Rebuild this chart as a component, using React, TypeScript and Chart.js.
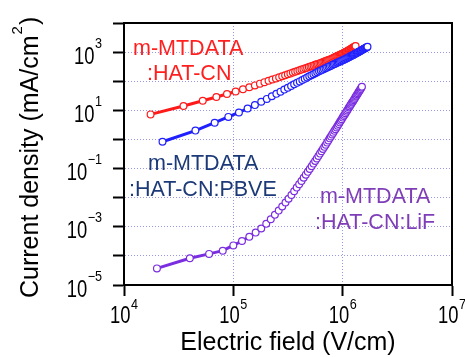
import React, { useEffect, useRef } from 'react';
import { Chart, registerables } from 'chart.js';

Chart.register(...registerables);

// Electric field (V/cm) and current density (mA/cm^2)
const redField = [17500, 35000, 52500, 70000, 87500, 105000, 122500, 140000, 157500, 175000, 192500, 210000, 227500, 245000, 262500, 280000, 297500, 315000, 332500, 350000, 367500, 385000, 402500, 420000, 437500, 455000, 472500, 490000, 507500, 525000, 542500, 560000, 577500, 595000, 612500, 630000, 647500, 665000, 682500, 700000, 717500, 735000, 752500, 770000, 787500, 805000, 822500, 840000, 857500, 875000, 892500, 910000, 927500, 945000, 962500, 980000, 997500, 1015000, 1032500, 1050000, 1067500, 1085000, 1102500, 1120000, 1137500, 1155000, 1172500, 1190000, 1207500, 1225000, 1242500, 1260000, 1277500, 1295000, 1312500];
const redDensity = [7.24, 14.1, 21.4, 28.8, 36.3, 44.2, 53.2, 62.4, 71.8, 82.4, 93.1, 104, 114, 125, 136, 148, 160, 173, 186, 198, 211, 224, 238, 251, 265, 279, 292, 307, 321, 336, 350, 365, 381, 394, 410, 426, 442, 459, 476, 493, 511, 527, 545, 562, 581, 604, 627, 650, 675, 701, 728, 752, 778, 804, 830, 859, 887, 916, 951, 982, 1014, 1047, 1081, 1117, 1153, 1194, 1236, 1285, 1327, 1374, 1419, 1469, 1517, 1570, 1622];

const blueField = [22500, 45000, 67500, 90000, 112500, 135000, 157500, 180000, 202500, 225000, 247500, 270000, 292500, 315000, 337500, 360000, 382500, 405000, 427500, 450000, 472500, 495000, 517500, 540000, 562500, 585000, 607500, 630000, 652500, 675000, 697500, 720000, 742500, 765000, 787500, 810000, 832500, 855000, 877500, 900000, 922500, 945000, 967500, 990000, 1012500, 1035000, 1057500, 1080000, 1102500, 1125000, 1147500, 1170000, 1192500, 1215000, 1237500, 1260000, 1282500, 1305000, 1327500, 1350000, 1372500, 1395000, 1417500, 1440000, 1462500, 1485000, 1507500, 1530000, 1552500, 1575000, 1597500, 1620000, 1642500, 1665000, 1687500];
const blueDensity = [0.832, 2.01, 3.75, 5.94, 8.45, 11.5, 15.1, 19.7, 24.7, 30.5, 36.8, 43.9, 51.5, 59.7, 68.5, 78.0, 87.9, 98.6, 110, 122, 134, 147, 161, 174, 188, 203, 218, 233, 248, 264, 280, 297, 315, 330, 349, 366, 384, 402, 420, 439, 458, 476, 495, 515, 537, 561, 583, 607, 631, 656, 682, 706, 731, 759, 785, 813, 845, 875, 910, 942, 975, 1009, 1045, 1081, 1119, 1159, 1194, 1236, 1274, 1312, 1352, 1393, 1435, 1476, 1521];

const purpleField = [20000, 40000, 60000, 80000, 100000, 120000, 140000, 160000, 180000, 200000, 220000, 240000, 260000, 280000, 300000, 320000, 340000, 360000, 380000, 400000, 420000, 440000, 460000, 480000, 500000, 520000, 540000, 560000, 580000, 600000, 620000, 640000, 660000, 680000, 700000, 720000, 740000, 760000, 780000, 800000, 820000, 840000, 860000, 880000, 900000, 920000, 940000, 960000, 980000, 1000000, 1020000, 1040000, 1060000, 1080000, 1100000, 1120000, 1140000, 1160000, 1180000, 1200000, 1220000, 1240000, 1260000, 1280000, 1300000, 1320000, 1340000, 1360000, 1380000, 1400000, 1420000, 1440000, 1460000, 1480000, 1500000];
const purpleDensity = [3.72e-5, 8.32e-5, 1.17e-4, 1.51e-4, 2.29e-4, 3.24e-4, 4.57e-4, 6.31e-4, 8.71e-4, 1.26e-3, 1.82e-3, 2.57e-3, 3.6e-3, 4.98e-3, 6.82e-3, 9.23e-3, 1.24e-2, 1.66e-2, 2.22e-2, 2.89e-2, 3.75e-2, 4.81e-2, 6.17e-2, 7.71e-2, 9.66e-2, 0.12, 0.148, 0.182, 0.221, 0.27, 0.327, 0.394, 0.474, 0.557, 0.662, 0.78, 0.92, 1.09, 1.26, 1.47, 1.71, 1.97, 2.26, 2.59, 2.98, 3.42, 3.87, 4.39, 4.97, 5.62, 6.37, 7.11, 7.94, 8.87, 9.91, 11.1, 12.4, 13.6, 15.2, 16.7, 18.5, 20.3, 22.4, 24.7, 27.2, 29.9, 32.5, 35.8, 38.9, 42.3, 45.9, 50.0, 54.5, 59.3, 64.6];

const xTickValues = [1e4, 1e5, 1e6, 1e7];
const xTickExponents = ['4', '5', '6', '7'];
const yTickValues = [1e-5, 1e-4, 1e-3, 1e-2, 1e-1, 1, 1e1, 1e2, 1e3, 1e4];
const yLabelValues = [1e-5, 1e-3, 1e-1, 1e1, 1e3];
const yLabelExponents = ['\u22125', '\u22123', '\u22121', '1', '3'];

const xTitle = 'Electric field (V/cm)';
const yTitleMain = 'Current density (mA/cm';
const yTitleSup = '2';
const yTitleEnd = ')';

const seriesLabels = [
  { lines: ['m-MTDATA', ':HAT-CN'], color: '#ff1f1f' },
  { lines: ['m-MTDATA', ':HAT-CN:PBVE'], color: '#1d3a78' },
  { lines: ['m-MTDATA', ':HAT-CN:LiF'], color: '#7f3db8' },
];

const RED = '#ff1a1a';
const BLUE = '#1f1fff';
const PURPLE = '#7b2de0';
const FONT = '"Liberation Sans", Arial, Helvetica, sans-serif';

function drawText(ctx: CanvasRenderingContext2D, s: string, x: number, y: number, size: number, color: string, align: CanvasTextAlign = 'left', sx = 1) {
  ctx.save();
  ctx.font = `${size}px ${FONT}`;
  ctx.fillStyle = color;
  ctx.textBaseline = 'alphabetic';
  ctx.textAlign = align;
  ctx.translate(x, y);
  ctx.scale(sx, 1);
  ctx.fillText(s, 0, 0);
  ctx.restore();
}
function measure(ctx: CanvasRenderingContext2D, s: string, size: number, sx = 1) {
  ctx.save();
  ctx.font = `${size}px ${FONT}`;
  const w = ctx.measureText(s).width * sx;
  ctx.restore();
  return w;
}

const decorPlugin = {
  id: 'decor',
  afterDraw(chart: any) {
    const ctx: CanvasRenderingContext2D = chart.ctx;
    const { left, right, top, bottom } = chart.chartArea;
    ctx.save();
    ctx.strokeStyle = '#000';
    ctx.lineWidth = 2;
    ctx.strokeRect(left, top, right - left, bottom - top);
    ctx.restore();

    const sx = 0.8;
    const base = 23;
    const sup = 14;
    const ys = chart.scales.y;
    const xs = chart.scales.x;
    yLabelValues.forEach((v, i) => {
      const py = ys.getPixelForValue(v);
      const e = yLabelExponents[i];
      const ew = measure(ctx, e, sup, 0.9);
      const rightEdge = 102;
      drawText(ctx, e, rightEdge - ew, py - 4.5, sup, '#000', 'left', 0.9);
      drawText(ctx, '10', rightEdge - ew - 0.5, py + 11.5, base, '#000', 'right', sx);
    });
    xTickValues.forEach((v, i) => {
      const px = xs.getPixelForValue(v);
      const e = xTickExponents[i];
      const bw = measure(ctx, '10', base, sx);
      const ew = measure(ctx, e, sup, 0.9);
      const start = px - (bw + ew + 0.5) / 2;
      drawText(ctx, '10', start, 323, base, '#000', 'left', sx);
      drawText(ctx, e, start + bw + 0.5, 309, sup, '#000', 'left', 0.9);
    });

    drawText(ctx, xTitle, (left + right) / 2, 350, 25, '#000', 'center');

    ctx.save();
    ctx.translate(38, 298);
    ctx.rotate(-Math.PI / 2);
    ctx.font = `25px ${FONT}`;
    ctx.fillStyle = '#000';
    ctx.textBaseline = 'alphabetic';
    ctx.textAlign = 'left';
    ctx.fillText(yTitleMain, 0, 0);
    const mw = ctx.measureText(yTitleMain).width;
    ctx.font = `15px ${FONT}`;
    ctx.fillText(yTitleSup, mw + 1, -16);
    const sw = ctx.measureText(yTitleSup).width;
    ctx.font = `25px ${FONT}`;
    ctx.fillText(yTitleEnd, mw + sw + 2, 0);
    ctx.restore();

    const pos = [
      [[133, 55], [147, 80]],
      [[148, 169.5], [129, 196]],
      [[320, 202.5], [315, 228.5]],
    ];
    seriesLabels.forEach((lab, i) => {
      lab.lines.forEach((t, j) => {
        drawText(ctx, t, pos[i][j][0], pos[i][j][1], 21.5, lab.color, 'left');
      });
    });
  },
};

function makeDataset(xs: number[], ys: number[], color: string, order: number) {
  return {
    data: xs.map((x, i) => ({ x, y: ys[i] })),
    showLine: true,
    borderColor: color,
    backgroundColor: color,
    borderWidth: 3,
    pointRadius: 3.4,
    pointBorderWidth: 1.2,
    pointBorderColor: color,
    pointBackgroundColor: '#ffffff',
    tension: 0,
    order,
  };
}

export default function App() {
  const ref = useRef<HTMLCanvasElement | null>(null);
  useEffect(() => {
    if (!ref.current) return;
    const gridCommon = {
      color: '#9898ea',
      lineWidth: 1,
      drawTicks: true,
      tickLength: 11,
      tickColor: '#000',
      tickWidth: 2,
    };
    const chart = new Chart(ref.current, {
      type: 'scatter',
      data: {
        datasets: [
          makeDataset(redField, redDensity, RED, 2),
          makeDataset(blueField, blueDensity, BLUE, 1),
          makeDataset(purpleField, purpleDensity, PURPLE, 3),
        ] as any,
      },
      options: {
        responsive: false,
        maintainAspectRatio: false,
        devicePixelRatio: 1,
        animation: false,
        events: [],
        layout: { padding: { top: 23, right: 13, left: 0, bottom: 0 } },
        plugins: { legend: { display: false }, tooltip: { enabled: false } },
        scales: {
          x: {
            type: 'logarithmic',
            position: 'bottom',
            min: 1e4,
            max: 1e7,
            afterBuildTicks: (s: any) => {
              s.ticks = xTickValues.map((v) => ({ value: v }));
            },
            afterFit: (s: any) => {
              s.height = 72;
            },
            ticks: { display: false },
            grid: gridCommon,
            border: { display: true, color: '#000', width: 2, dash: [1, 2] },
          },
          y: {
            type: 'logarithmic',
            position: 'left',
            min: 1e-5,
            max: 1e4,
            afterBuildTicks: (s: any) => {
              s.ticks = yTickValues.map((v) => ({ value: v }));
            },
            afterFit: (s: any) => {
              s.width = 124;
            },
            ticks: { display: false },
            grid: gridCommon,
            border: { display: true, color: '#000', width: 2, dash: [1, 2] },
          },
        },
      } as any,
      plugins: [decorPlugin],
    });
    return () => chart.destroy();
  }, []);
  return (
    <div style={{ position: 'fixed', left: 0, top: 0, width: 465, height: 357, background: '#fff' }}>
      <canvas ref={ref} width={465} height={357} style={{ display: 'block' }} />
    </div>
  );
}
